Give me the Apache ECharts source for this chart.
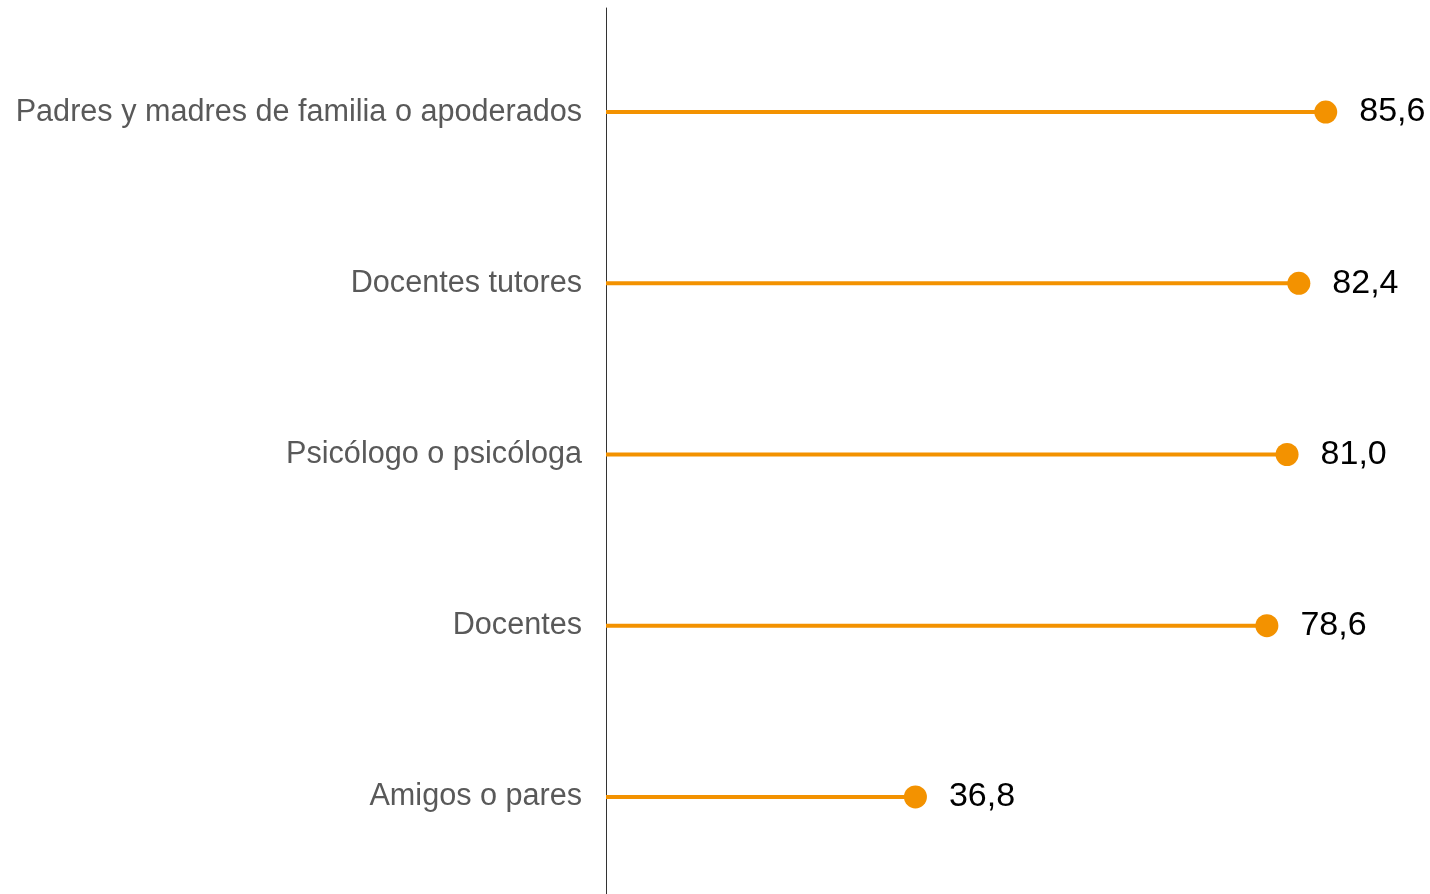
<!DOCTYPE html>
<html><head><meta charset="utf-8">
<script src="https://cdn.jsdelivr.net/npm/echarts@6/dist/echarts.min.js"></script>
<style>html,body{margin:0;padding:0;background:#fff}#c{width:1430px;height:894px}</style>
</head><body><div id="c"></div>
<script>
const categories = ["Padres y madres de familia o apoderados","Docentes tutores","Psicólogo o psicóloga","Docentes","Amigos o pares"];
const values = [85.6, 82.4, 81.0, 78.6, 36.8];
const color = '#F39200';
const chart = echarts.init(document.getElementById('c'), null, {renderer:'canvas'});
chart.setOption({
  animation:false,
  backgroundColor:'#fff',
  grid:[
    {left:606, right:0, top:26.5, height:856},
    {left:606, right:0, top:8, bottom:-10}
  ],
  xAxis:[
    {gridIndex:0, type:'value', min:0, max:98, show:false},
    {gridIndex:1, type:'value', min:0, max:98, show:false}
  ],
  yAxis:[
    {gridIndex:0, type:'category', data:categories, inverse:true,
     axisLine:{show:false}, axisTick:{show:false},
     axisLabel:{color:'#595959', fontSize:30.6, fontFamily:'Liberation Sans, Arial, sans-serif', margin:24}},
    {gridIndex:1, type:'category', data:[''], axisLabel:{show:false}, axisTick:{show:false},
     axisLine:{show:true, lineStyle:{color:'#333', width:1}}}
  ],
  series:[
    {type:'bar', xAxisIndex:0, yAxisIndex:0, data:values, barWidth:4, itemStyle:{color:color}, silent:true},
    {type:'scatter', xAxisIndex:0, yAxisIndex:0, data:values, symbolSize:23, itemStyle:{color:color, opacity:1},
     label:{show:true, position:'right', distance:22, color:'#000', fontSize:34, fontFamily:'Liberation Sans, Arial, sans-serif',
       formatter:p=>p.value.toFixed(1).replace('.',',')}}
  ]
});
</script></body></html>
